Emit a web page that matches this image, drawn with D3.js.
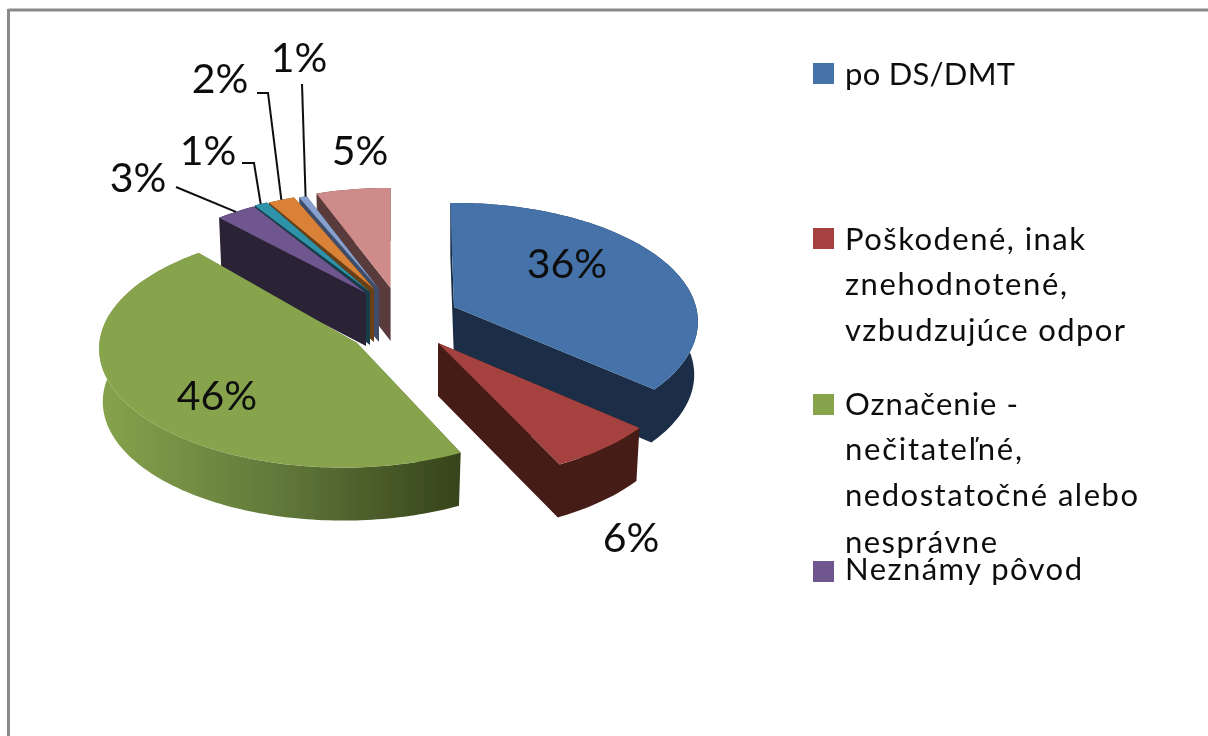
<!doctype html>
<html lang="en">
<head>
<meta charset="utf-8">
<title>Pie</title>
<script src="https://d3js.org/d3.v7.min.js"></script>
<style>
  html, body { margin: 0; padding: 0; background: #fff; }
  svg { display: block; }
  text { font-family: Lato, "Open Sans", sans-serif; fill: #111; }
</style>
</head>
<body>
<svg width="1208" height="736"></svg>
<script>
// values
const categories = ["po DS/DMT", "Poškodené, inak znehodnotené, vzbudzujúce odpor",
  "Označenie - nečitateľné, nedostatočné alebo nesprávne", "Neznámy pôvod",
  "teal", "orange", "lightblue", "pink"];
const values = [36, 6, 46, 3, 1, 2, 1, 5];

// colours
const topColors  = ["#4472a8", "#a5433f", "#87a44d", "#70568f", "#2f93a8", "#da8137", "#86a0cf", "#ce8b8a"];
const wallColors = ["#1a2e46", "#451b17", "#36441b", "#2b2036", "#153d48", "#6b3f12", "#3f4e68", "#5a3a3a"];

// layout of the exploded slices: rim centre, apex, angle trim in degrees
const rimCentre = [[454, 307], [437, 347], [343, 334], [371, 296], [372, 295], [374, 295], [379, 295], [390.6, 292]];
const apex      = [[454, 307], [438, 343], [357, 343], [366, 293], [370, 292], [374, 289], [379, 289], [390.6, 288]];
const trim      = [[-1, 0.8], [0, 2], [3.2, 2.5], [0, 0], [0, 0], [0, 0], [0, -1.5], [-2, 0]];
const drawOrder = [7, 6, 5, 4, 3, 0, 1, 2];

const rx = 242, ry = 117, persp = 0.124, depth = 53, bottomShrink = 0.985;

const svg = d3.select("svg");
const defs = svg.append("defs");
defs.append("filter").attr("id", "soft")
  .append("feGaussianBlur").attr("stdDeviation", 0.7);
const root = svg.append("g").attr("filter", "url(#soft)");

// frame
root.append("line").attr("x1", 8.5).attr("y1", 10).attr("x2", 1208).attr("y2", 10)
  .attr("stroke", "#8a8a8a").attr("stroke-width", 3);
root.append("line").attr("x1", 8.5).attr("y1", 9).attr("x2", 8.5).attr("y2", 736)
  .attr("stroke", "#8a8a8a").attr("stroke-width", 3);

const arcs = d3.pie().sort(null).value(d => d)(values);

function rimPoint(i, a) {
  const u = Math.sin(a), v = -Math.cos(a), s = 1 / (1 - persp * v);
  return [rimCentre[i][0] + rx * u * s, rimCentre[i][1] + ry * v * s];
}
function dropPoint(i, p) {
  return [rimCentre[i][0] + (p[0] - rimCentre[i][0]) * bottomShrink, p[1] + depth];
}
function rimAngles(i) {
  const a0 = arcs[i].startAngle + trim[i][0] * Math.PI / 180;
  const a1 = arcs[i].endAngle + trim[i][1] * Math.PI / 180;
  const n = Math.max(4, Math.ceil((a1 - a0) / 0.02));
  return d3.range(n + 1).map(k => a0 + (a1 - a0) * k / n);
}

const line = d3.line().curve(d3.curveLinear);

// same winding for every part, so one path holds the whole side with no seams
function ring(points) {
  const p = d3.polygonArea(points) < 0 ? points.slice().reverse() : points;
  return line(p) + "Z";
}

// green side gets a horizontal shade, the others are flat
const greenShade = defs.append("linearGradient").attr("id", "greenShade")
  .attr("gradientUnits", "userSpaceOnUse").attr("x1", 100).attr("x2", 460).attr("y1", 0).attr("y2", 0);
greenShade.append("stop").attr("offset", 0).attr("stop-color", "#86a34c");
greenShade.append("stop").attr("offset", 0.5).attr("stop-color", "#61783a");
greenShade.append("stop").attr("offset", 1).attr("stop-color", "#36441b");

const slices = root.selectAll("g.slice").data(drawOrder).join("g").attr("class", "slice");

slices.each(function (i) {
  const g = d3.select(this);
  const rim = rimAngles(i).map(a => rimPoint(i, a));
  const low = rim.map(p => dropPoint(i, p));
  const apexLow = [apex[i][0], apex[i][1] + depth];
  const last = rim.length - 1;
  const wall = i === 2 ? "url(#greenShade)" : wallColors[i];

  g.append("path")
    .attr("d", ring([apex[i], rim[0], low[0], apexLow]) +
               ring([apex[i], rim[last], low[last], apexLow]) +
               ring(rim.concat(low.slice().reverse())))
    .attr("fill", wall);
  g.append("path")
    .attr("d", line([apex[i]].concat(rim)) + "Z")
    .attr("fill", topColors[i]);
});

// leader lines, from the label elbow to the middle of the slice rim
const leaders = [
  { slice: 3, from: [[176, 187]] },
  { slice: 4, from: [[242, 163], [254, 163]] },
  { slice: 5, from: [[257, 93], [268, 93]] },
  { slice: 6, from: [[302, 84]] }
];
root.selectAll("path.leader").data(leaders).join("path")
  .attr("class", "leader")
  .attr("fill", "none").attr("stroke", "#111").attr("stroke-width", 2)
  .attr("d", d => {
    const mid = (arcs[d.slice].startAngle + arcs[d.slice].endAngle) / 2;
    return line(d.from.concat([rimPoint(d.slice, mid)]));
  });

// data labels
const labelPos = [[567, 278], [631, 552], [217, 410], [138, 192], [208, 165], [220, 93], [299, 72], [360, 165]];
root.selectAll("text.pct").data(values).join("text")
  .attr("class", "pct")
  .attr("x", (d, i) => labelPos[i][0])
  .attr("y", (d, i) => labelPos[i][1])
  .attr("text-anchor", "middle")
  .attr("font-size", 41)
  .text(d => d + "%");

// legend: text, baseline, drawn width
const legendRows = [
  { c: 0, y: 63,  lines: [["po DS/DMT", 85, 170]] },
  { c: 1, y: 228, lines: [["Poškodené, inak", 250, 240], ["znehodnotené,", 295, 222], ["vzbudzujúce odpor", 341, 280]] },
  { c: 2, y: 394, lines: [["Označenie -", 415, 173], ["nečitateľné,", 460, 177], ["nedostatočné alebo", 506, 293], ["nesprávne", 553, 152]] },
  { c: 3, y: 561, lines: [["Neznámy pôvod", 580, 237]] }
];
const legend = root.selectAll("g.legend").data(legendRows).join("g").attr("class", "legend");
legend.append("rect")
  .attr("x", 813).attr("y", d => d.y).attr("width", 21).attr("height", 21)
  .attr("fill", d => topColors[d.c]);
legend.selectAll("text").data(d => d.lines).join("text")
  .attr("x", 845).attr("y", d => d[1])
  .attr("font-size", 31)
  .attr("textLength", d => d[2]).attr("lengthAdjust", "spacing")
  .text(d => d[0]);
</script>
</body>
</html>
